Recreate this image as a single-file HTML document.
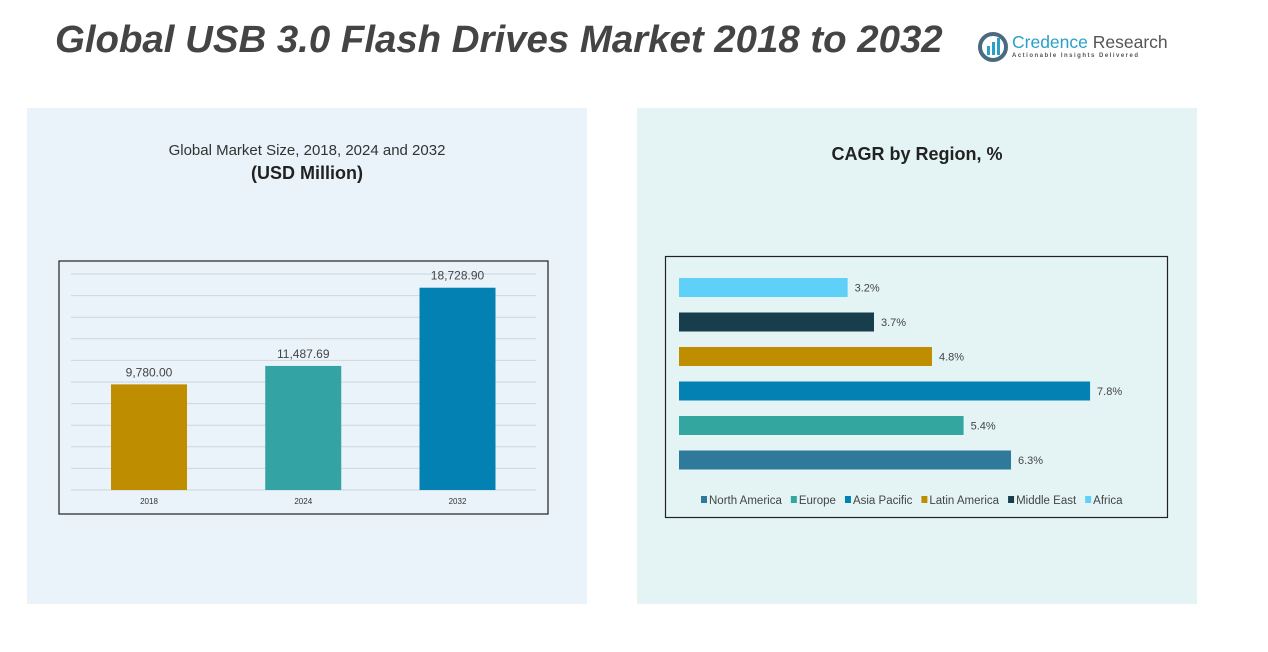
<!DOCTYPE html>
<html><head><meta charset="utf-8"><style>
body{margin:0;width:1268px;height:652px;background:#fff;font-family:"Liberation Sans",sans-serif;position:relative;overflow:hidden}
.abs{position:absolute}
</style></head><body>
<div class="abs" style="left:55px;top:18px;font-size:38.4px;font-weight:bold;font-style:italic;color:#444;white-space:nowrap">Global USB 3.0 Flash Drives Market 2018 to 2032</div>
<div class="abs" style="left:978px;top:30px;width:200px;height:34px">
<svg width="32" height="32" class="abs" style="left:0;top:2px"><circle cx="15" cy="15" r="13" fill="none" stroke="#4a6a80" stroke-width="4"/><rect x="9" y="14" width="3" height="9" fill="#2aa0c8"/><rect x="14" y="10" width="3" height="13" fill="#2aa0c8"/><rect x="19" y="6" width="3" height="17" fill="#2aa0c8"/></svg>
<div class="abs" style="left:34px;top:2px;font-size:17.5px;color:#2aa0c8;white-space:nowrap">Credence <span style="color:#555">Research</span></div>
<div class="abs" style="left:34px;top:23px;font-size:6px;letter-spacing:1.5px;color:#555;white-space:nowrap;font-weight:bold">Actionable Insights Delivered</div>
</div>
<div class="abs" style="left:27px;top:108px;width:560px;height:496px;background:#e9f3f9"></div>
<div class="abs" style="left:637px;top:108px;width:560px;height:496px;background:#e4f4f4"></div>
<div class="abs" style="left:27px;width:560px;top:142px;text-align:center;font-size:15px;color:#333">Global Market Size, 2018, 2024 and 2032</div>
<div class="abs" style="left:27px;width:560px;top:163px;text-align:center;font-size:18px;font-weight:bold;color:#222">(USD Million)</div>
<div class="abs" style="left:637px;width:560px;top:144px;text-align:center;font-size:18px;font-weight:bold;color:#222">CAGR by Region, %</div>
<svg class="abs" style="left:0;top:0" width="1268" height="652" id="svg">
<rect x="59" y="261" width="489" height="253" fill="none" stroke="#222" stroke-width="1.2"/>
<rect x="665.5" y="256.5" width="502" height="261" fill="none" stroke="#222" stroke-width="1.2"/>
<g id="g1"></g><g id="g2"></g>
</svg>
<script>
const years=["2018","2024","2032"];
const sizes=[9780.00,11487.69,18728.90];
const sizeLabels=["9,780.00","11,487.69","18,728.90"];
const barColors=["#bf8e00","#33a3a3","#0481b3"];
const regions=["North America","Europe","Asia Pacific","Latin America","Middle East","Africa"];
const cagr=[6.3,5.4,7.8,4.8,3.7,3.2];
const regionColors=["#2f7a9a","#33a6a0","#0481b3","#bf8e00","#183d4c","#5fd0f7"];
const NS="http://www.w3.org/2000/svg";
function mk(t,a,p){const e=document.createElementNS(NS,t);for(const k in a)e.setAttribute(k,a[k]);p.appendChild(e);return e;}
const g1=document.getElementById('g1'),g2=document.getElementById('g2');
const y=v=>490-v*0.0108;
for(let v=0;v<=20000;v+=2000){const l=mk('line',{x1:71,x2:536,y1:y(v),y2:y(v),stroke:'#cdd6dc','stroke-width':1},g1);

}
const xc=i=>149+i*154.25;
years.forEach((yr,i)=>{
const r=mk('rect',{x:xc(i)-38,y:y(sizes[i]),width:76,height:490-y(sizes[i]),fill:barColors[i]},g1);


const t=mk('text',{x:xc(i),y:y(sizes[i])-8,'text-anchor':'middle','font-size':12,fill:'#444'},g1);t.textContent=sizeLabels[i];


const a=mk('text',{x:xc(i),y:504,'text-anchor':'middle','font-size':8,fill:'#333'},g1);a.textContent=yr;


});
const xs=v=>679+v*52.7;
regions.forEach((rg,i)=>{
const cy=460-i*34.5;
const r=mk('rect',{x:679,y:cy-9.5,width:xs(cagr[i])-679,height:19,fill:regionColors[i]},g2);


const t=mk('text',{x:xs(cagr[i])+7,y:cy+4,'font-size':11,fill:'#444'},g2);t.textContent=cagr[i].toFixed(1)+'%';


});
let lx=701;
regions.forEach((rg,i)=>{
const s=mk('rect',{x:lx,y:496,width:6,height:7,fill:regionColors[i]},g2);


const t=mk('text',{x:lx+8,y:504,'font-size':11.5,fill:'#444'},g2);t.textContent=rg;


lx+=8+t.getComputedTextLength()+9;
});
</script>
</body></html>
